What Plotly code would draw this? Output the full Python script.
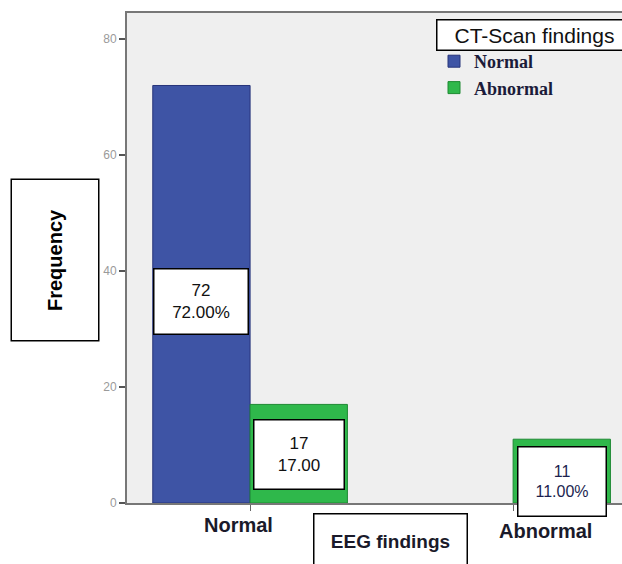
import plotly.graph_objects as go

eeg_categories = ["Normal", "Abnormal"]
ct_normal_counts = [72, 0]
ct_abnormal_counts = [17, 11]
ct_normal_labels = ["72<br>72.00%", None]
ct_abnormal_labels = ["17<br>17.00", "11<br>11.00%"]
y_ticks = [0, 20, 40, 60, 80]

W, H = 622, 564
L, R, T, B = 127, 0, 13, 61
pw = W - L - R
ph = H - T - B
ymax = 84.5


def px_x(px):
    return (px - L) / pw


def px_y(py):
    return (H - B - py) / ph


fig = go.Figure()
fig.add_trace(go.Bar(
    x=eeg_categories, y=ct_normal_counts, name="Normal",
    marker=dict(color="#3e54a5", line=dict(color="#27347a", width=[1, 0])),
    legendgroup="a",
))
fig.add_trace(go.Bar(
    x=eeg_categories, y=ct_abnormal_counts, name="Abnormal",
    marker=dict(color="#2fb84b", line=dict(color="#1e8a33", width=1)),
    legendgroup="b",
))

off = 0.185  # group offset in category units
annos = []
box_font = dict(family="Liberation Sans, Arial", size=17, color="#111111")
specs = [
    (0, -off, 34.7, ct_normal_labels[0], 91, 62, box_font),
    (0, off, 8.3, ct_abnormal_labels[0], 87, 66, box_font),
    (1, off, 3.7, ct_abnormal_labels[1], 85, 66,
     dict(family="Liberation Sans, Arial", size=16, color="#1c1f4f")),
]
for ci, o, yv, txt, w, h, f in specs:
    if txt is None:
        continue
    annos.append(dict(
        x=ci + o, y=yv, xref="x", yref="y", text=txt, showarrow=False,
        xanchor="center", yanchor="middle",
        bgcolor="white", bordercolor="black", borderwidth=1.5, borderpad=1,
        width=w, height=h, font=f, align="center", valign="middle",
    ))

# Frequency box
annos.append(dict(
    x=px_x(54.5), y=px_y(260), xref="paper", yref="paper",
    xanchor="center", yanchor="middle",
    text="<b>Frequency</b>", textangle=-90, showarrow=False,
    bgcolor="white", bordercolor="black", borderwidth=1.5,
    width=158, height=84, font=dict(family="Liberation Sans, Arial", size=20, color="black"),
))

# category labels
lab_font = dict(family="Liberation Sans, Arial", size=20, color="#1a1a2a")
annos.append(dict(
    x=0, y=px_y(525), xref="x", yref="paper", xshift=-12,
    xanchor="center", yanchor="middle",
    text="<b>Normal</b>", showarrow=False, font=lab_font,
))
annos.append(dict(
    x=1, y=px_y(531), xref="x", yref="paper", xshift=32,
    xanchor="center", yanchor="middle",
    text="<b>Abnormal</b>", showarrow=False, font=lab_font,
))

# EEG findings box
annos.append(dict(
    x=px_x(390), y=px_y(541), xref="paper", yref="paper",
    xanchor="center", yanchor="middle",
    text="<b>EEG findings</b>", showarrow=False,
    bgcolor="white", bordercolor="black", borderwidth=1.5,
    width=150, height=52,
    font=dict(family="Liberation Sans, Arial", size=19, color="#1a1a2a"),
))

# legend title box
annos.append(dict(
    x=px_x(436), y=px_y(35), xref="paper", yref="paper",
    xanchor="left", yanchor="middle",
    text="CT-Scan findings", showarrow=False,
    bgcolor="white", bordercolor="black", borderwidth=1.5,
    width=192, height=27, align="center",
    font=dict(family="Liberation Sans, Arial", size=21, color="#111111"),
))

fig.update_layout(
    width=W, height=H,
    margin=dict(l=L, r=R, t=T, b=B),
    paper_bgcolor="white",
    plot_bgcolor="#efefef",
    barmode="group",
    bargap=0.26,
    bargroupgap=0,
    showlegend=True,
    legend=dict(
        x=px_x(434), y=px_y(43), xanchor="left", yanchor="top",
        bgcolor="rgba(0,0,0,0)", tracegroupgap=0,
        font=dict(family="Liberation Serif, serif", size=18, color="#1b1b3a", weight="bold"),
    ),
    annotations=annos,
    xaxis=dict(
        range=[-0.468, 1.414], showticklabels=False, ticks="outside",
        ticklen=6, tickcolor="#666", showline=True, linecolor="#777",
        linewidth=2, mirror=True, showgrid=False, zeroline=False,
    ),
    yaxis=dict(
        range=[0, ymax], tickvals=y_ticks, ticks="outside", ticklen=6,
        tickcolor="#555", tickwidth=1.5, showline=True, linecolor="#777", linewidth=2,
        showgrid=False, zeroline=False,
        tickfont=dict(family="Liberation Sans, Arial", size=12, color="#9a9a9a"),
    ),
)

fig.write_html("out.html", config={"displayModeBar": False},
               post_script="document.body.style.margin='0';")
